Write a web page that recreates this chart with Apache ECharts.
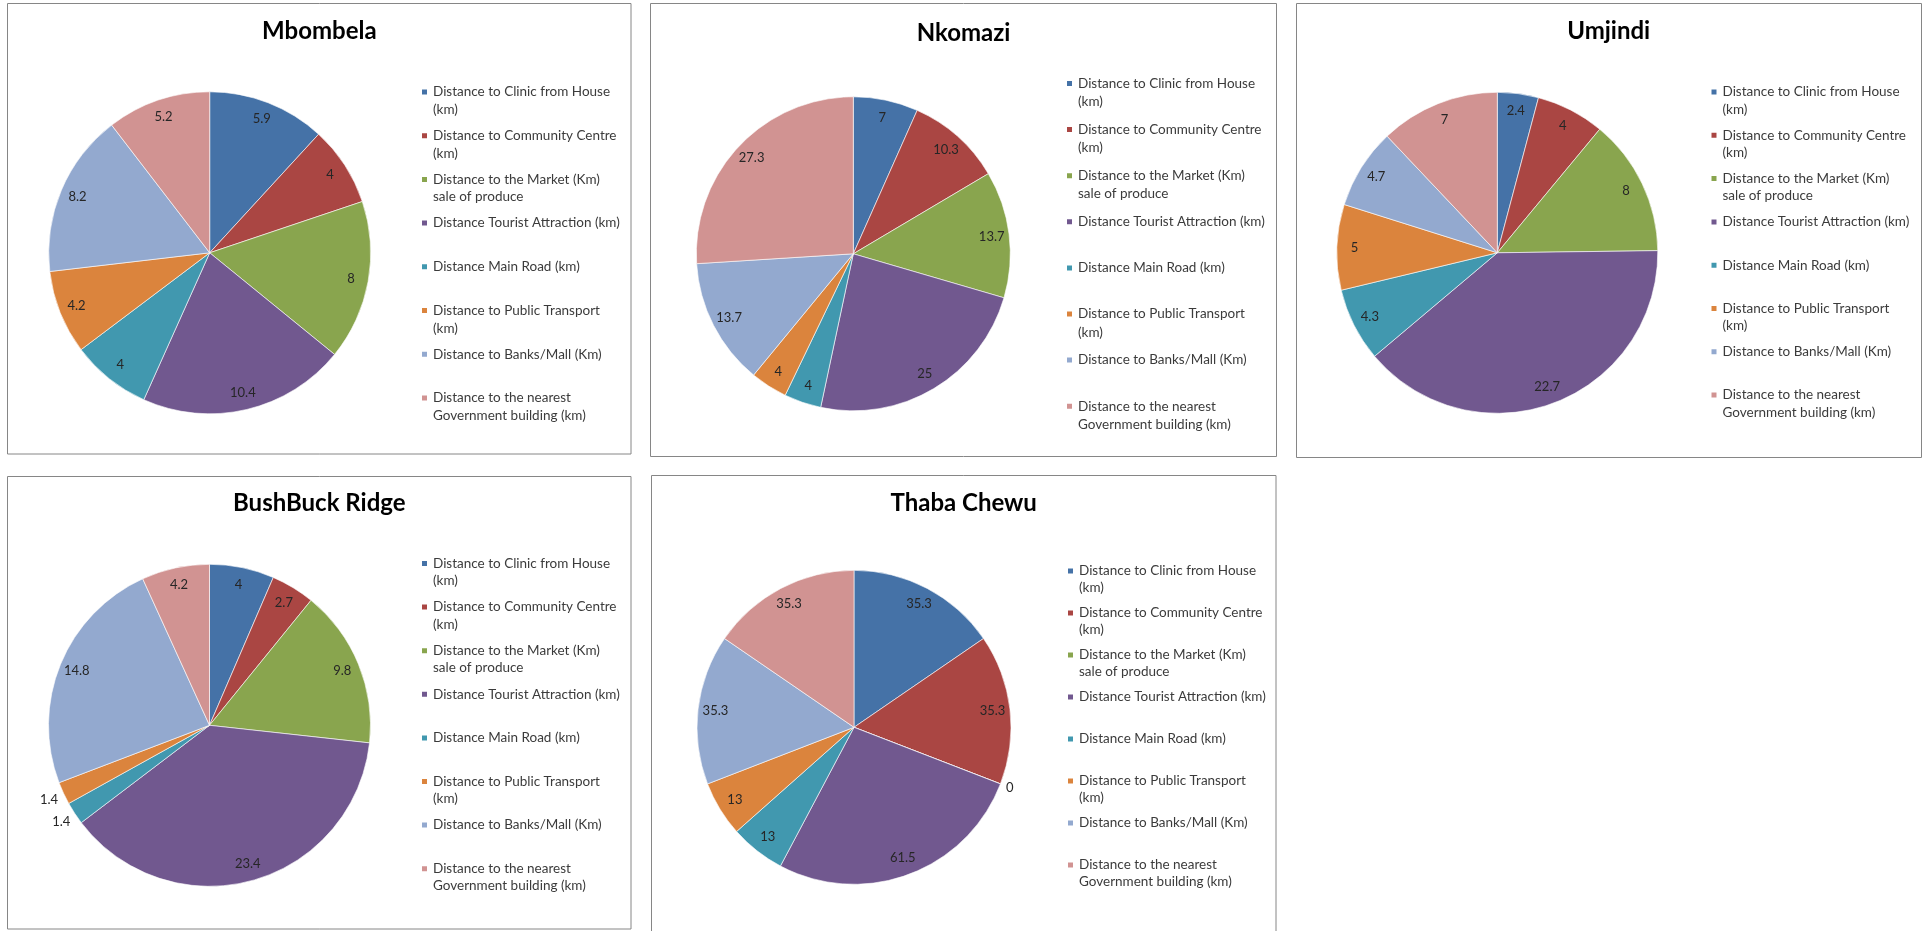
<!DOCTYPE html>
<html>
<head>
<meta charset="utf-8">
<script src="https://cdn.jsdelivr.net/npm/echarts@6/dist/echarts.min.js"></script>
<style>
  html, body { margin: 0; padding: 0; background: #ffffff; }
  #chart { width: 1924px; height: 931px; }
</style>
</head>
<body>
<div id="chart"></div>
<script>
// Distance categories (legend text, wrapped as drawn)
const categories = [
  'Distance to Clinic from House\n(km)',
  'Distance to Community Centre\n(km)',
  'Distance to the Market (Km)\nsale of produce',
  'Distance Tourist Attraction (km)',
  'Distance Main Road (km)',
  'Distance to Public Transport\n(km)',
  'Distance to Banks/Mall (Km)',
  'Distance to the nearest\nGovernment building (km)'
];

// Distances in km per municipality, same order as categories
const mbombela      = [5.9, 4, 8, 10.4, 4, 4.2, 8.2, 5.2];
const nkomazi       = [7, 10.3, 13.7, 25, 4, 4, 13.7, 27.3];
const umjindi       = [2.4, 4, 8, 22.7, 4.3, 5, 4.7, 7];
const bushbuckRidge = [4, 2.7, 9.8, 23.4, 1.4, 1.4, 14.8, 4.2];
const thabaChewu    = [35.3, 35.3, 0, 61.5, 13, 13, 35.3, 35.3];

const municipalities = ['Mbombela', 'Nkomazi', 'Umjindi', 'BushBuck Ridge', 'Thaba Chewu'];
const seriesValues = [mbombela, nkomazi, umjindi, bushbuckRidge, thabaChewu];

const palette = ['#4572A7', '#AA4643', '#89A54E', '#71588F', '#4198AF', '#DB843D', '#93A9CF', '#D19392'];

// Panel layout (pixels): frame box, title centre, pie centre/radius, legend placement
const layouts = [
  { frame: [7.5, 3.5, 623.5, 450.5],  title: [319.3, 31.5],  center: [209.7, 252.8],  r: 161,
    legend: { left: 420,    firstY: 92,    pitch: 43.7, lh: 17.7 }, outer: null },
  { frame: [650.5, 3.5, 626, 453],    title: [963.5, 33],    center: [853.3, 253.8],  r: 157,
    legend: { left: 1065,   firstY: 83.5,  pitch: 46.1, lh: 18.3 }, outer: null },
  { frame: [1296.5, 3.5, 625, 454],   title: [1608.7, 31.5], center: [1497.3, 252.8], r: 160.5,
    legend: { left: 1709.5, firstY: 92,    pitch: 43.3, lh: 17.3 }, outer: null },
  { frame: [7.5, 476.5, 623.5, 452.5], title: [319.3, 503.3], center: [209.5, 725.3], r: 161,
    legend: { left: 420,    firstY: 563.5, pitch: 43.6, lh: 17.4 }, outer: { items: [4, 5], ring: [170, 178] } },
  { frame: [651.5, 475.5, 624.5, 470], title: [963.7, 503.3], center: [854, 727.3], r: 157,
    legend: { left: 1066,   firstY: 571,   pitch: 42,   lh: 16.7 }, outer: { items: [2], ring: [160, 168] } }
];

const labelFont = { fontFamily: 'Lato', fontSize: 13, color: '#262626' };

const series = [];
const legends = [];
const titles = [];
const frames = [];

layouts.forEach(function (lay, p) {
  const values = seriesValues[p];
  const outsideItems = lay.outer ? lay.outer.items : [];

  // the slices themselves
  series.push({
    type: 'pie',
    center: lay.center,
    radius: lay.r,
    startAngle: 90,
    clockwise: true,
    avoidLabelOverlap: false,
    color: palette,
    itemStyle: { borderColor: '#ffffff', borderWidth: 0.6 },
    label: { show: false },
    labelLine: { show: false },
    emphasis: { disabled: true },
    data: categories.map(function (name, i) { return { name: name, value: values[i] }; })
  });

  // value labels near the rim (transparent ring carrying the labels)
  const rInner = Math.round(0.78 * lay.r - 6);
  series.push({
    type: 'pie',
    center: lay.center,
    radius: [rInner, lay.r],
    startAngle: 90,
    clockwise: true,
    silent: true,
    avoidLabelOverlap: false,
    itemStyle: { color: 'rgba(0,0,0,0)', borderWidth: 0 },
    label: Object.assign({ show: true, position: 'inside', formatter: '{c}', overflow: 'none' }, labelFont),
    labelLine: { show: false },
    emphasis: { disabled: true },
    data: categories.map(function (name, i) {
      return { name: name, value: values[i], label: { show: outsideItems.indexOf(i) < 0 } };
    })
  });

  // labels for slices too thin to hold their value, set just outside the pie
  if (lay.outer) {
    series.push({
      type: 'pie',
      center: lay.center,
      radius: lay.outer.ring,
      startAngle: 90,
      clockwise: true,
      silent: true,
      avoidLabelOverlap: false,
      itemStyle: { color: 'rgba(0,0,0,0)', borderWidth: 0 },
      label: Object.assign({ show: true, position: 'inside', formatter: '{c}', overflow: 'none' }, labelFont),
      labelLine: { show: false },
      emphasis: { disabled: true },
      data: categories.map(function (name, i) {
        return { name: name, value: values[i], label: { show: outsideItems.indexOf(i) >= 0 } };
      })
    });
  }

  // legend: every entry takes three line-heights so the swatch sits on the first text line
  const lg = lay.legend;
  legends.push({
    orient: 'vertical',
    left: lg.left,
    top: lg.firstY - 1.5 * lg.lh,
    padding: 0,
    align: 'left',
    icon: 'rect',
    itemWidth: 7,
    itemHeight: 7,
    itemGap: lg.pitch - 3 * lg.lh,
    selectedMode: false,
    height: 420,
    formatter: function (name) {
      return name.indexOf('\n') >= 0 ? '\n' + name : name;
    },
    textStyle: { fontFamily: 'Lato', fontSize: 13.5, lineHeight: lg.lh, color: '#3b3b3b' },
    data: categories.map(function (name) {
      const twoLines = name.indexOf('\n') >= 0;
      return { name: name, textStyle: { padding: twoLines ? 0 : [lg.lh, 0, lg.lh, 0] } };
    })
  });

  titles.push({
    text: municipalities[p],
    left: lay.title[0],
    top: lay.title[1],
    textAlign: 'center',
    textVerticalAlign: 'middle',
    padding: 0,
    textStyle: { fontFamily: 'Lato', fontWeight: 'bold', fontSize: 24, color: '#000000' }
  });

  frames.push({
    type: 'rect',
    silent: true,
    z: -10,
    shape: { x: lay.frame[0], y: lay.frame[1], width: lay.frame[2], height: lay.frame[3] },
    style: { fill: '#ffffff', stroke: '#868686', lineWidth: 1 }
  });
});

const chart = echarts.init(document.getElementById('chart'), null, { renderer: 'canvas' });
chart.setOption({
  backgroundColor: '#ffffff',
  animation: false,
  color: palette,
  title: titles,
  legend: legends,
  graphic: frames,
  series: series
});
</script>
</body>
</html>
